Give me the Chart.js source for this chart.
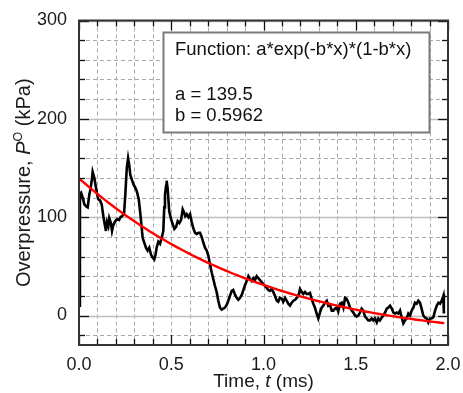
<!DOCTYPE html>
<html>
<head>
<meta charset="utf-8">
<script src="https://cdn.jsdelivr.net/npm/chart.js@4.4.0/dist/chart.umd.min.js"></script>
<style>
  html, body { margin: 0; padding: 0; background: #fff; }
  #wrap { width: 463px; height: 393px; }
</style>
</head>
<body>
<div id="wrap"><canvas id="c" width="463" height="393"></canvas></div>
<script>
// Measured overpressure record (time in ms, pressure in kPa)
const timeMs = [
  0.003, 0.005, 0.011, 0.020, 0.029, 0.038, 0.047, 0.056, 0.061, 0.069,
  0.074, 0.083, 0.092, 0.101, 0.105, 0.114, 0.123, 0.132, 0.141, 0.146,
  0.152, 0.159, 0.164, 0.173, 0.179, 0.186, 0.197, 0.206, 0.217, 0.225,
  0.233, 0.244, 0.251, 0.259, 0.266, 0.273, 0.278, 0.287, 0.296, 0.305,
  0.314, 0.324, 0.331, 0.338, 0.345, 0.354, 0.363, 0.372, 0.381, 0.390,
  0.399, 0.408, 0.415, 0.421, 0.430, 0.439, 0.448, 0.457, 0.462, 0.466,
  0.472, 0.475, 0.481, 0.489, 0.499, 0.508, 0.517, 0.526, 0.535, 0.544,
  0.553, 0.562, 0.569, 0.576, 0.584, 0.593, 0.602, 0.611, 0.619, 0.629,
  0.638, 0.647, 0.656, 0.665, 0.674, 0.683, 0.692, 0.701, 0.710, 0.719,
  0.728, 0.737, 0.746, 0.755, 0.764, 0.773, 0.782, 0.791, 0.801, 0.809,
  0.818, 0.828, 0.836, 0.846, 0.855, 0.863, 0.873, 0.882, 0.891, 0.900,
  0.909, 0.918, 0.927, 0.936, 0.945, 0.954, 0.963, 0.972, 0.981, 0.990,
  0.999, 1.008, 1.017, 1.026, 1.035, 1.044, 1.053, 1.062, 1.072, 1.080,
  1.089, 1.099, 1.107, 1.117, 1.126, 1.134, 1.144, 1.153, 1.162, 1.171,
  1.180, 1.189, 1.198, 1.207, 1.216, 1.225, 1.234, 1.243, 1.252, 1.261,
  1.270, 1.279, 1.288, 1.297, 1.306, 1.315, 1.324, 1.333, 1.343, 1.351,
  1.360, 1.370, 1.378, 1.388, 1.397, 1.405, 1.415, 1.424, 1.433, 1.442,
  1.451, 1.460, 1.469, 1.478, 1.487, 1.496, 1.505, 1.514, 1.523, 1.532,
  1.541, 1.550, 1.559, 1.568, 1.577, 1.586, 1.595, 1.604, 1.614, 1.622,
  1.631, 1.641, 1.649, 1.659, 1.668, 1.676, 1.686, 1.695, 1.704, 1.713,
  1.722, 1.731, 1.740, 1.749, 1.758, 1.767, 1.776, 1.785, 1.794, 1.803,
  1.812, 1.821, 1.830, 1.839, 1.848, 1.857, 1.866, 1.875, 1.884, 1.893,
  1.902, 1.911, 1.920, 1.930, 1.939, 1.948, 1.957, 1.966, 1.975, 1.977,
  1.978
];
const pressureKPa = [
  10, 124, 125, 120, 113, 111, 110, 123, 127, 137,
  146, 140, 130, 121, 118, 117, 113, 101, 91, 86,
  95, 91, 99, 94, 86, 92, 96, 98, 97, 100,
  101, 103, 123, 150, 160, 152, 143, 138, 133, 130,
  126, 118, 106, 93, 79, 74, 69, 66, 69, 62,
  59, 57, 62, 69, 75, 73, 79, 86, 110, 123,
  132, 137, 128, 106, 98, 93, 88, 90, 96, 94,
  97, 108, 105, 101, 103, 100, 103, 95, 89, 84,
  83, 84, 84, 80, 74, 69, 66, 61, 52, 44,
  37, 30, 24, 15, 8, 6, 7, 8, 11, 15,
  20, 25, 26, 21, 18, 16, 18, 21, 26, 31,
  35, 40, 37, 35, 38, 36, 40, 38, 36, 34,
  32, 30, 28, 26, 25, 27, 24, 20, 15, 14,
  18, 17, 14, 18, 15, 12, 10, 13, 15, 16,
  18, 20, 27, 24, 22, 24, 22, 22, 23, 17,
  12, 8, 2, -3, 3, 8, 10, 13, 15, 10,
  11, 5, 5, 7, 8, 4, 12, 13, 8, 18,
  17, 13, 8, 5, 3, 0, -1, 0, 3, 7,
  5, -1, -3, -5, -5, -3, -5, -3, -7, -3,
  -5, -2, 0, 3, 7, 8, 10, 7, 3, 2,
  3, 2, 5, -2, -8, -5, -3, 2, 0, 5,
  8, 13, 12, 15, 13, 7, 0, -2, -3, -7,
  -3, -3, -2, 5, 10, 13, 12, 15, 20, 22,
  2
];

// Fitted parameters for p(t) = a*exp(-b*t)*(1-b*t)
const fitA = 139.5;
const fitB = 0.5962;
const fitEndMs = 1.98;

// Axis ticks
const xTickValues = [0, 0.5, 1.0, 1.5, 2.0];
const yTickValues = [0, 100, 200, 300];
const xMinorStep = 0.1;
const yMinorStep = 20;
const xRange = [0, 2];
const yRange = [-30, 300];

const FONT = '"Liberation Sans", Arial, Helvetica, sans-serif';

const measured = timeMs.map((t, i) => ({ x: t, y: pressureKPa[i] }));
const fitCurve = [];
for (let i = 0; i <= 99; i++) {
  const t = fitEndMs * i / 99;
  fitCurve.push({ x: t, y: fitA * Math.exp(-fitB * t) * (1 - fitB * t) });
}

function range(lo, hi, step) {
  const out = [];
  const n = Math.round((hi - lo) / step);
  for (let i = 0; i <= n; i++) out.push(+(lo + i * step).toFixed(6));
  return out;
}

// Grid, frame, inner ticks, fit box and axis titles
const decor = {
  id: 'decor',
  beforeDatasetsDraw(chart) {
    const { ctx, chartArea: a, scales: { x, y } } = chart;
    ctx.save();
    ctx.beginPath();
    ctx.rect(a.left, a.top, a.right - a.left, a.bottom - a.top);
    ctx.clip();
    // dashed minor grid
    ctx.strokeStyle = '#a8a8a8';
    ctx.lineWidth = 1;
    ctx.setLineDash([4, 3]);
    range(xRange[0], xRange[1], xMinorStep).forEach(v => {
      const px = Math.round(x.getPixelForValue(v)) + 0.5;
      ctx.beginPath(); ctx.moveTo(px, a.top); ctx.lineTo(px, a.bottom); ctx.stroke();
    });
    range(-20, 280, yMinorStep).forEach(v => {
      if (yTickValues.includes(v)) return;
      const py = Math.round(y.getPixelForValue(v)) + 0.5;
      ctx.beginPath(); ctx.moveTo(a.left, py); ctx.lineTo(a.right, py); ctx.stroke();
    });
    // solid major lines
    ctx.setLineDash([]);
    ctx.strokeStyle = '#bdbdbd';
    ctx.lineWidth = 1.5;
    yTickValues.forEach(v => {
      const py = Math.round(y.getPixelForValue(v)) + 0.5;
      ctx.beginPath(); ctx.moveTo(a.left, py); ctx.lineTo(a.right, py); ctx.stroke();
    });
    ctx.restore();
  },
  afterDatasetsDraw(chart) {
    const { ctx, chartArea: a, scales: { x, y } } = chart;
    ctx.save();
    // inner tick marks on all four sides
    ctx.strokeStyle = '#111';
    ctx.lineWidth = 1.3;
    range(xRange[0], xRange[1], xMinorStep).forEach(v => {
      const major = xTickValues.some(m => Math.abs(m - v) < 1e-6);
      const len = major ? 10 : 6;
      const px = Math.round(x.getPixelForValue(v)) + 0.5;
      ctx.beginPath(); ctx.moveTo(px, a.bottom); ctx.lineTo(px, a.bottom - len); ctx.stroke();
      ctx.beginPath(); ctx.moveTo(px, a.top); ctx.lineTo(px, a.top + len); ctx.stroke();
    });
    range(-20, 300, yMinorStep).forEach(v => {
      const major = yTickValues.includes(v);
      const len = major ? 10 : 6;
      const py = Math.round(y.getPixelForValue(v)) + 0.5;
      ctx.beginPath(); ctx.moveTo(a.left, py); ctx.lineTo(a.left + len, py); ctx.stroke();
      ctx.beginPath(); ctx.moveTo(a.right, py); ctx.lineTo(a.right - len, py); ctx.stroke();
    });
    // frame
    ctx.strokeStyle = '#333';
    ctx.lineWidth = 2;
    ctx.strokeRect(a.left, a.top, a.right - a.left, a.bottom - a.top);

    // fit result box
    ctx.fillStyle = '#fff';
    ctx.fillRect(163.5, 32.5, 266, 100);
    ctx.strokeStyle = '#7a7a7a';
    ctx.lineWidth = 2;
    ctx.strokeRect(163.5, 32.5, 266, 100);
    ctx.fillStyle = '#111';
    ctx.font = '18.5px ' + FONT;
    ctx.textBaseline = 'alphabetic';
    ctx.textAlign = 'left';
    ctx.fillText('Function: a*exp(-b*x)*(1-b*x)', 175, 54.5);
    ctx.fillText('a = ' + fitA, 175, 100);
    ctx.fillText('b = ' + fitB, 175, 120.5);
    ctx.restore();
  },
  afterDraw(chart) {
    const { ctx, chartArea: a } = chart;
    ctx.save();
    ctx.fillStyle = '#1a1a1a';
    ctx.textBaseline = 'alphabetic';
    ctx.textAlign = 'left';

    function drawRuns(runs, cx, base) {
      let total = 0;
      runs.forEach(r => { ctx.font = r.font; r.w = ctx.measureText(r.text).width; total += r.w; });
      let xx = cx - total / 2;
      runs.forEach(r => { ctx.font = r.font; ctx.fillText(r.text, xx, base - (r.rise || 0)); xx += r.w; });
    }

    // x title
    drawRuns([
      { text: 'Time, ', font: '19px ' + FONT },
      { text: 't', font: 'italic 19px ' + FONT },
      { text: ' (ms)', font: '19px ' + FONT }
    ], (a.left + a.right) / 2, 387);

    // y title
    ctx.translate(29.5, (a.top + a.bottom) / 2);
    ctx.rotate(-Math.PI / 2);
    drawRuns([
      { text: 'Overpressure, ', font: '20px ' + FONT },
      { text: 'P', font: 'italic 20px ' + FONT },
      { text: 'O', font: '12.5px ' + FONT, rise: 8 },
      { text: ' (kPa)', font: '20px ' + FONT }
    ], 0, 0);
    ctx.restore();
  }
};

new Chart(document.getElementById('c'), {
  type: 'scatter',
  data: {
    datasets: [
      {
        label: 'fit',
        data: fitCurve,
        showLine: true,
        borderColor: '#ff0000',
        borderWidth: 2.4,
        pointRadius: 0,
        tension: 0,
        order: 0
      },
      {
        label: 'measured',
        data: measured,
        showLine: true,
        borderColor: '#000',
        borderWidth: 2.6,
        pointRadius: 0,
        tension: 0,
        order: 1
      }
    ]
  },
  options: {
    responsive: false,
    devicePixelRatio: 1,
    animation: false,
    events: [],
    layout: { padding: { left: 0, right: 15, top: 20.5, bottom: 0 } },
    plugins: { legend: { display: false }, tooltip: { enabled: false } },
    scales: {
      x: {
        type: 'linear',
        min: xRange[0],
        max: xRange[1],
        afterBuildTicks: s => { s.ticks = xTickValues.map(v => ({ value: v })); },
        afterFit: s => { s.height = 48; s.paddingLeft = 0; s.paddingRight = 0; },
        grid: { display: false, drawTicks: false },
        border: { display: false },
        ticks: {
          autoSkip: false,
          maxRotation: 0,
          padding: 9,
          color: '#1a1a1a',
          font: { family: FONT, size: 18 },
          callback: v => Number(v).toFixed(1)
        }
      },
      y: {
        type: 'linear',
        min: yRange[0],
        max: yRange[1],
        afterBuildTicks: s => { s.ticks = yTickValues.map(v => ({ value: v })); },
        afterFit: s => { s.width = 79; s.paddingTop = 0; s.paddingBottom = 0; },
        grid: { display: false, drawTicks: false },
        border: { display: false },
        ticks: {
          autoSkip: false,
          padding: 12,
          color: '#1a1a1a',
          font: { family: FONT, size: 18 },
          callback: v => String(v)
        }
      }
    }
  },
  plugins: [decor]
});
</script>
</body>
</html>
